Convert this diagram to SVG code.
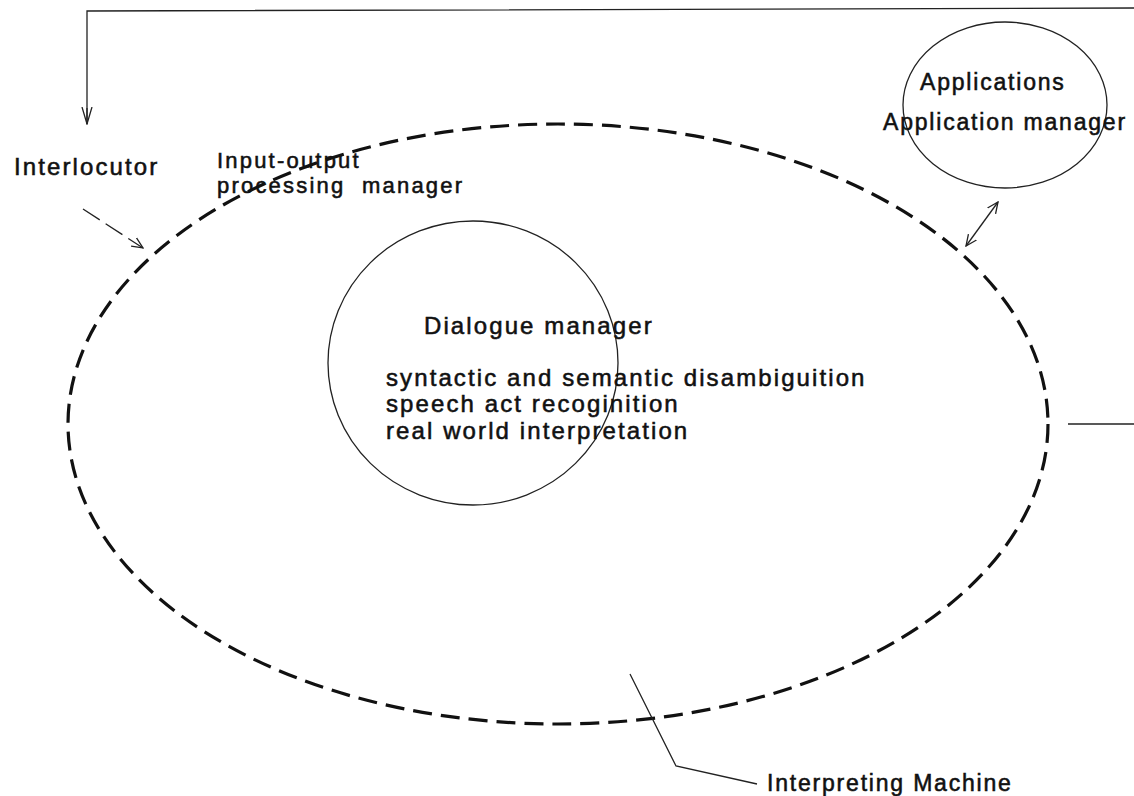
<svg xmlns="http://www.w3.org/2000/svg" width="1134" height="796" viewBox="0 0 1134 796">
<style>
text{font-family:"Liberation Sans",Arial,sans-serif;font-size:24px;letter-spacing:2.1px;fill:#111;stroke:#111;stroke-width:0.55}
.io{font-size:22px;letter-spacing:2.2px}
.sm{font-size:23px;letter-spacing:1.8px}
.thin{fill:none;stroke:#222;stroke-width:1.3}
.dashed{fill:none;stroke:#111;stroke-width:3.2;stroke-dasharray:19 9}
</style>
<defs>
<marker id="open" viewBox="0 0 12 12" refX="11" refY="6" markerWidth="12" markerHeight="12" markerUnits="userSpaceOnUse" orient="auto-start-reverse">
<path d="M0,1 L11,6 L0,11" fill="none" stroke="#222" stroke-width="1.3"/>
</marker>
<marker id="openLong" viewBox="0 0 18 12" refX="17" refY="6" markerWidth="18" markerHeight="12" markerUnits="userSpaceOnUse" orient="auto">
<path d="M0,1 L17,6 L0,11" fill="none" stroke="#222" stroke-width="1.3"/>
</marker>
</defs>
<g id="interpreting-machine">
<ellipse cx="558" cy="424" rx="490" ry="300" class="dashed"/>
<text class="sm" x="767" y="791">Interpreting Machine</text>
</g>
<g id="dialogue-manager">
<ellipse cx="473" cy="363" rx="145" ry="142" class="thin"/>
<text x="424" y="334">Dialogue manager</text>
<text x="386" y="386">syntactic and semantic disambiguition</text>
<text x="386" y="412">speech act recoginition</text>
<text x="386" y="439">real world interpretation</text>
</g>
<g id="applications">
<ellipse cx="1005" cy="105" rx="102" ry="83" class="thin"/>
<text class="sm" x="920" y="90">Applications</text>
<text class="sm" x="883" y="130">Application manager</text>
</g>
<g id="interlocutor">
<text x="14" y="175">Interlocutor</text>
</g>
<g id="io-manager">
<text class="io" x="217" y="168">Input-output</text>
<text class="io" x="217" y="193" xml:space="preserve">processing  manager</text>
</g>
<g id="connectors">
<polyline points="87,124 87,11 1134,8" class="thin"/>
<line x1="87" y1="108" x2="87" y2="124" class="thin" marker-end="url(#openLong)"/>
<line x1="83" y1="209" x2="143" y2="248" class="thin" stroke-dasharray="20 7" marker-end="url(#open)"/>
<line x1="966" y1="246" x2="998" y2="202" class="thin" marker-start="url(#open)" marker-end="url(#open)"/>
<line x1="1068" y1="424" x2="1134" y2="424" class="thin"/>
<polyline points="630,674 676,766 757,784" class="thin"/>
</g>
</svg>
